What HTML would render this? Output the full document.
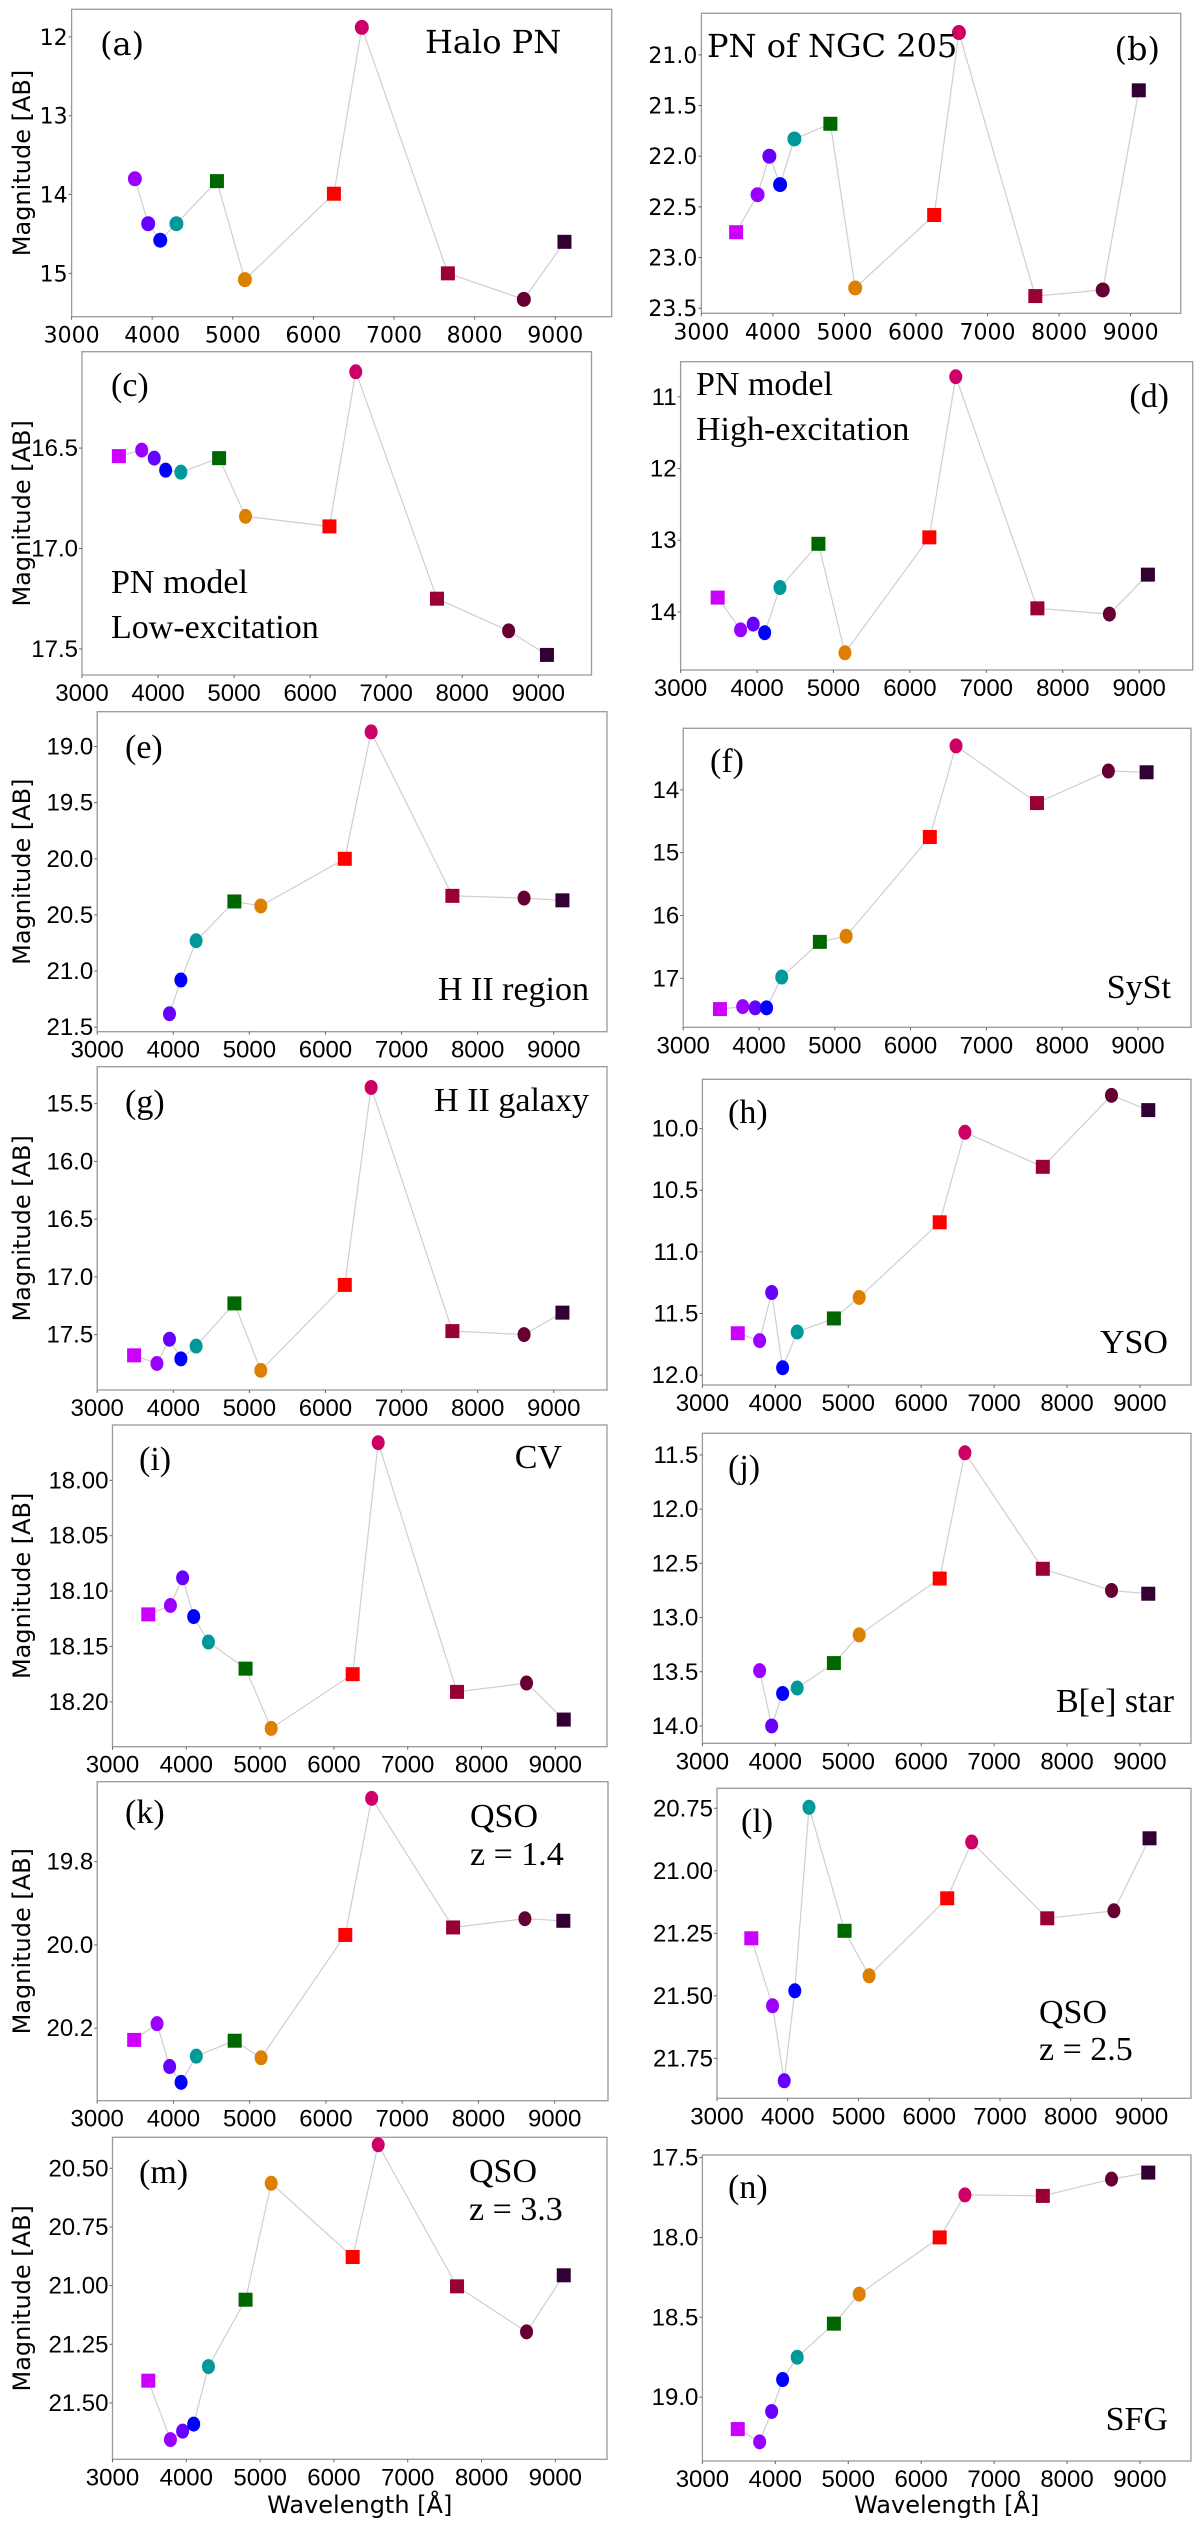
<!DOCTYPE html>
<html><head><meta charset="utf-8"><title>J-PLUS photometry panels</title>
<style>
html,body{margin:0;padding:0;background:#fff;}
svg{display:block;}
.tick{font-family:"DejaVu Sans","Liberation Sans",sans-serif;font-size:22px;fill:#000;}
.tickn{font-family:"Liberation Sans",sans-serif;font-size:24px;fill:#000;}
.ann1{font-family:"DejaVu Serif","Liberation Serif",serif;font-size:32px;fill:#000;}
.ann{font-family:"Liberation Serif",serif;font-size:34px;fill:#000;}
.axlab{font-family:"DejaVu Sans","Liberation Sans",sans-serif;font-size:24px;fill:#000;}
</style></head>
<body>
<svg id="fig" xmlns="http://www.w3.org/2000/svg" width="1200" height="2535" viewBox="0 0 1200 2535"></svg>
<script>
// ---- data ----
const wavelengths = [3485, 3785, 3950, 4100, 4300, 4803, 5150, 6254, 6600, 7668, 8610, 9114];
const filterNames = ["uJAVA","J0378","J0395","J0410","J0430","gSDSS","J0515","rSDSS","J0660","iSDSS","J0861","zSDSS"];
const markerShapes = ["s","o","o","o","o","s","o","s","o","s","o","s"];
const markerColors = ["#cc00ff","#9900ff","#6600ff","#0000ff","#009999","#006600","#dd8000","#ff0000","#cc0066","#990033","#660033","#330033"];

const magA = [null, 13.80, 14.37, 14.58, 14.37, 13.83, 15.08, 13.99, 11.88, 15.00, 15.33, 14.60];
const magB = [22.75, 22.38, 22.00, 22.28, 21.83, 21.68, 23.30, 22.58, 20.78, 23.38, 23.32, 21.35];
const magC = [16.54, 16.51, 16.55, 16.61, 16.62, 16.55, 16.84, 16.89, 16.12, 17.25, 17.41, 17.53];
const magD = [13.80, 14.25, 14.17, 14.29, 13.66, 13.05, 14.57, 12.96, 10.72, 13.95, 14.03, 13.48];
const magE = [null, null, 21.38, 21.08, 20.73, 20.38, 20.42, 20.00, 18.87, 20.33, 20.35, 20.37];
const magF = [17.49, 17.45, 17.47, 17.47, 16.98, 16.42, 16.33, 14.75, 13.30, 14.21, 13.70, 13.72];
const magG = [17.68, 17.75, 17.54, 17.71, 17.60, 17.23, 17.81, 17.07, 15.36, 17.47, 17.50, 17.31];
const magH = [11.66, 11.72, 11.33, 11.94, 11.65, 11.54, 11.37, 10.76, 10.03, 10.31, 9.73, 9.85];
const magI = [18.121, 18.113, 18.088, 18.123, 18.146, 18.170, 18.224, 18.175, 17.966, 18.191, 18.183, 18.216];
const magJ = [null, 13.49, 14.00, 13.70, 13.65, 13.42, 13.16, 12.64, 11.48, 12.55, 12.75, 12.78];
const magK = [20.228, 20.189, 20.292, 20.330, 20.267, 20.230, 20.271, 19.976, 19.648, 19.958, 19.937, 19.942];
const magL = [21.27, 21.54, 21.84, 21.48, 20.746, 21.24, 21.42, 21.11, 20.885, 21.19, 21.16, 20.87];
const magM = [21.405, 21.656, 21.62, 21.59, 21.345, 21.06, 20.564, 20.878, 20.40, 21.003, 21.197, 20.956];
const magN = [19.20, 19.28, 19.09, 18.89, 18.75, 18.54, 18.355, 18.00, 17.734, 17.74, 17.635, 17.594];

const xTicks = [3000, 4000, 5000, 6000, 7000, 8000, 9000];
const yTicksA = [12, 13, 14, 15];
const yTicksB = [21.0, 21.5, 22.0, 22.5, 23.0, 23.5];
const yTicksC = [16.5, 17.0, 17.5];
const yTicksD = [11, 12, 13, 14];
const yTicksE = [19.0, 19.5, 20.0, 20.5, 21.0, 21.5];
const yTicksF = [14, 15, 16, 17];
const yTicksG = [15.5, 16.0, 16.5, 17.0, 17.5];
const yTicksH = [10.0, 10.5, 11.0, 11.5, 12.0];
const yTicksI = [18.00, 18.05, 18.10, 18.15, 18.20];
const yTicksJ = [11.5, 12.0, 12.5, 13.0, 13.5, 14.0];
const yTicksK = [19.8, 20.0, 20.2];
const yTicksL = [20.75, 21.00, 21.25, 21.50, 21.75];
const yTicksM = [20.50, 20.75, 21.00, 21.25, 21.50];
const yTicksN = [17.5, 18.0, 18.5, 19.0];

// ---- layout ----
const NS = "http://www.w3.org/2000/svg";
const svg = document.getElementById("fig");
function mk(tag, attrs, parent){
  const e = document.createElementNS(NS, tag);
  for (const k in attrs) e.setAttribute(k, attrs[k]);
  (parent||svg).appendChild(e);
  return e;
}
const panels = [
 {id:"a", data:magA, yt:yTicksA, dec:0, box:[71.6,9.3,611.7,316.7], yd:[11.65,15.55], first:true, ylab:true,
  ann:[["(a)",100,55,"start"],["Halo PN",425,53,"start"]]},
 {id:"b", data:magB, yt:yTicksB, dec:1, box:[701.4,13.3,1180.7,313.3], yd:[20.59,23.55], first:true,
  ann:[["PN of NGC 205",707,57,"start"],["(b)",1160,60,"end"]]},
 {id:"c", data:magC, yt:yTicksC, dec:1, box:[82,351.7,591.5,675], yd:[16.02,17.63], ylab:true,
  ann:[["(c)",111,396,"start"],["PN model",111,593,"start"],["Low-excitation",111,638,"start"]]},
 {id:"d", data:magD, yt:yTicksD, dec:0, box:[680.6,361.7,1192.7,670], yd:[10.51,14.81],
  ann:[["PN model",696,395,"start"],["High-excitation",696,440,"start"],["(d)",1169,407,"end"]]},
 {id:"e", data:magE, yt:yTicksE, dec:1, box:[97.2,711.7,607,1031.7], yd:[18.69,21.54], ylab:true,
  ann:[["(e)",125,758,"start"],["H II region",589,1000,"end"]]},
 {id:"f", data:magF, yt:yTicksF, dec:0, box:[683.2,728.3,1191,1027.3], yd:[13.02,17.78],
  ann:[["(f)",710,772,"start"],["SySt",1171,998,"end"]]},
 {id:"g", data:magG, yt:yTicksG, dec:1, box:[97.2,1066.7,607,1390], yd:[15.18,17.98], ylab:true,
  ann:[["(g)",125,1113,"start"],["H II galaxy",589,1111,"end"]]},
 {id:"h", data:magH, yt:yTicksH, dec:1, box:[702.4,1079.3,1191,1385], yd:[9.6,12.08],
  ann:[["(h)",728,1123,"start"],["YSO",1168,1353,"end"]]},
 {id:"i", data:magI, yt:yTicksI, dec:2, box:[112.5,1425,607,1746.7], yd:[17.950,18.2405], ylab:true,
  ann:[["(i)",139,1470,"start"],["CV",562,1468,"end"]]},
 {id:"j", data:magJ, yt:yTicksJ, dec:1, box:[702.4,1433.3,1191,1743.3], yd:[11.30,14.16],
  ann:[["(j)",728,1478,"start"],["B[e] star",1174,1712,"end"]]},
 {id:"k", data:magK, yt:yTicksK, dec:1, box:[97.2,1781.7,608,2100.7], yd:[19.608,20.374], ylab:true,
  ann:[["(k)",125,1823,"start"],["QSO",470,1827,"start"],["z = 1.4",470,1865,"start"]]},
 {id:"l", data:magL, yt:yTicksL, dec:2, box:[717,1788.3,1191,2098.3], yd:[20.67,21.91],
  ann:[["(l)",741,1832,"start"],["QSO",1039,2023,"start"],["z = 2.5",1039,2060,"start"]]},
 {id:"m", data:magM, yt:yTicksM, dec:2, box:[112.5,2137.3,607,2459.3], yd:[20.368,21.74], ylab:true, xlab:true,
  ann:[["(m)",139,2183,"start"],["QSO",469,2182,"start"],["z = 3.3",469,2220,"start"]]},
 {id:"n", data:magN, yt:yTicksN, dec:1, box:[702.4,2155,1191,2461], yd:[17.484,19.4], xlab:true,
  ann:[["(n)",728,2198,"start"],["SFG",1168,2430,"end"]]}
];
const XD = [3000, 9700];

panels.forEach(p => {
  const [L,T,R,B] = p.box;
  const sx = v => L + (v - XD[0]) / (XD[1] - XD[0]) * (R - L);
  const sy = v => T + (v - p.yd[0]) / (p.yd[1] - p.yd[0]) * (B - T);
  const g = mk("g", {});
  
  
  const tcls = p.first ? "tick" : "tickn";
  const frame = mk("rect", {x:L, y:T, width:R-L, height:B-T, fill:"#fff", stroke:"#9a9a9a", "stroke-width":1.3}, g);
  
  
  // x ticks
  xTicks.forEach(t => {
    const x = sx(t);
    mk("line", {x1:x, y1:B, x2:x, y2:B+3, stroke:"#666", "stroke-width":1}, g);
    const tx = mk("text", {x:x, y:B+26, "text-anchor":"middle", class:tcls}, g);
    tx.textContent = t;
    
    
  });
  // y ticks
  p.yt.forEach(t => {
    const y = sy(t);
    mk("line", {x1:L-3, y1:y, x2:L, y2:y, stroke:"#666", "stroke-width":1}, g);
    const ty = mk("text", {x:L-4, y:y+8, "text-anchor":"end", class:tcls}, g);
    ty.textContent = t.toFixed(p.dec);
    
    
  });
  // connecting line
  const pts = [];
  p.data.forEach((m,i) => { if (m !== null) pts.push(sx(wavelengths[i]).toFixed(1) + "," + sy(m).toFixed(1)); });
  const pl = mk("polyline", {points:pts.join(" "), fill:"none", stroke:"#cfcfcf", "stroke-width":1.2}, g);
  
  
  // markers
  p.data.forEach((m,i) => {
    if (m === null) return;
    const cx = sx(wavelengths[i]), cy = sy(m);
    let el;
    if (markerShapes[i] === "s") {
      el = mk("rect", {x:cx-7, y:cy-7, width:14, height:14, fill:markerColors[i]}, g);
    } else {
      el = mk("ellipse", {cx:cx, cy:cy, rx:p.first?7:6.5, ry:7.5, fill:markerColors[i]}, g);
    }
    
    
  });
  // annotations
  p.ann.forEach(a => {
    const t = mk("text", {x:a[1], y:a[2], "text-anchor":a[3], class:p.first?"ann1":"ann"}, g);
    t.textContent = a[0];
    
    
  });
  if (p.ylab) {
    const cy = (T + B) / 2;
    const yl = mk("text", {x:0, y:0, "text-anchor":"middle", class:"axlab", transform:"translate(30," + cy + ") rotate(-90)"}, g);
    yl.textContent = "Magnitude [AB]";
    
    
  }
  if (p.xlab) {
    const xl = mk("text", {x:(L+R)/2, y:2513, "text-anchor":"middle", class:"axlab"}, g);
    xl.textContent = "Wavelength [Å]";
    
    
  }
});
</script>
</body></html>
